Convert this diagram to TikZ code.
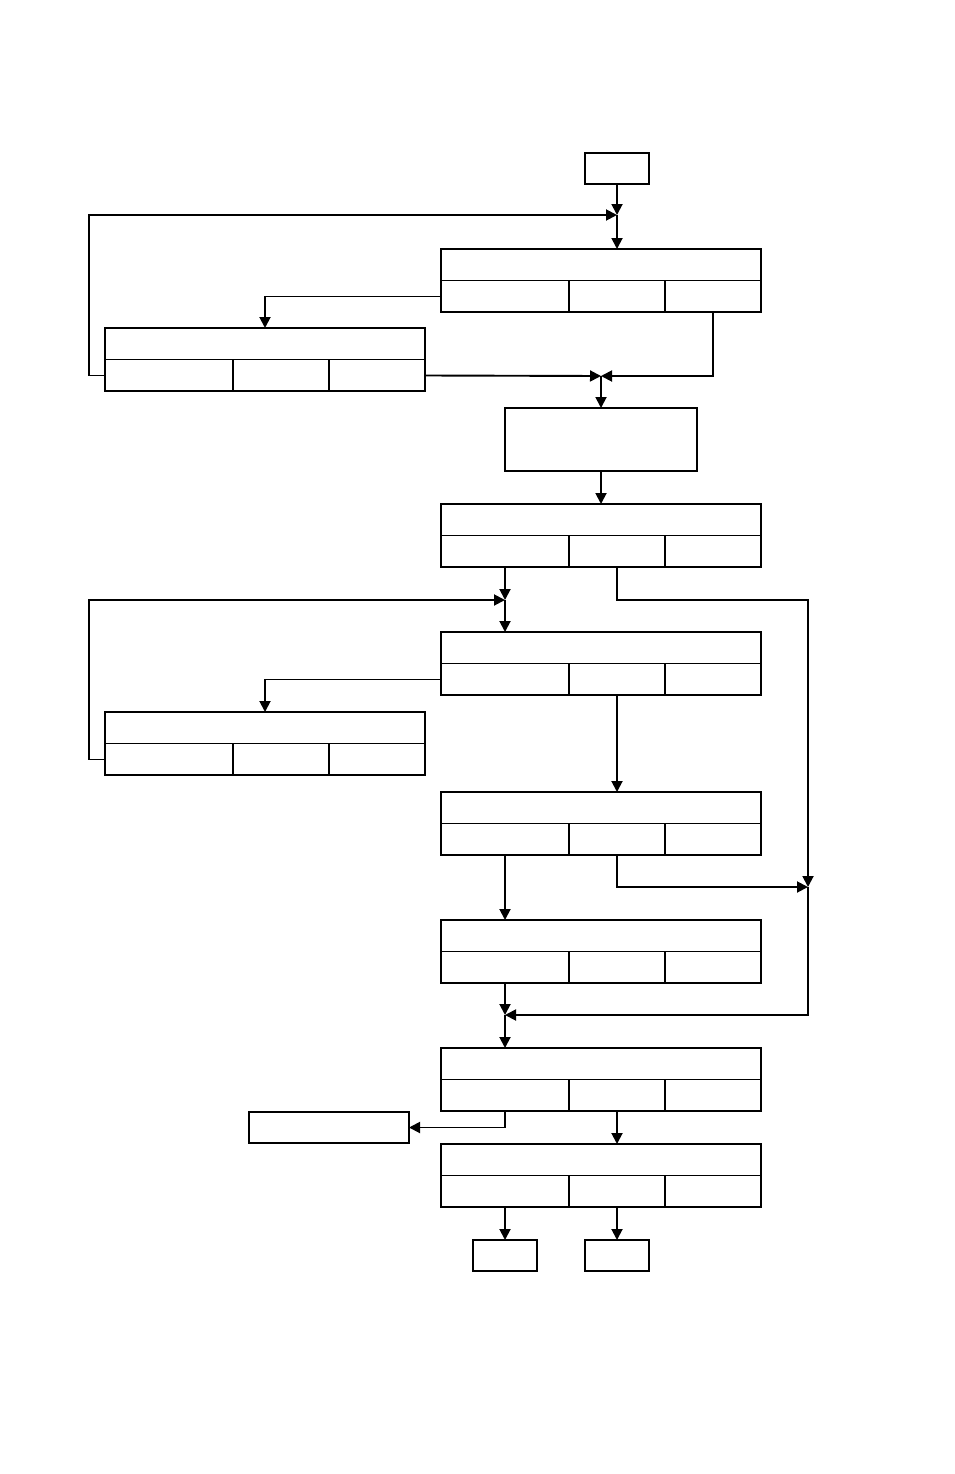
\documentclass[tikz,border=0pt]{standalone}
\usetikzlibrary{arrows.meta}
\tikzset{
  box/.style={draw, rectangle, inner sep=0pt, outer sep=0pt, anchor=north west},
  arr/.style={-{Triangle[length=11pt,width=11pt]}},
}
\newcommand\mytable[3]{%
  \node[box, minimum width=320pt, minimum height=63pt] (#1) at (#2,#3) {};
  \draw (#1.west) -- (#1.east);
  \draw ([xshift=128pt]#1.south west) -- ([xshift=128pt]#1.west);
  \draw ([xshift=224pt]#1.south west) -- ([xshift=224pt]#1.west);
}
\begin{document}
\begin{tikzpicture}[x=1pt, y=-1pt, line width=1.9pt]
\fill[white] (0,0) rectangle (954,1474);
\useasboundingbox (0,0) rectangle (954,1474);

\node[box, minimum width=64pt, minimum height=31pt] (start) at (585,153) {};
\mytable{A}{441}{249}
\mytable{B}{105}{328}
\node[box, minimum width=192pt, minimum height=63pt] (C) at (505,408) {};
\mytable{D}{441}{504}
\mytable{E}{441}{632}
\mytable{F}{105}{712}
\mytable{G}{441}{792}
\mytable{H}{441}{920}
\mytable{I}{441}{1048}
\node[box, minimum width=160pt, minimum height=31pt] (K) at (249,1112) {};
\mytable{L}{441}{1144}
\node[box, minimum width=64pt, minimum height=31pt] (M) at (473,1240) {};
\node[box, minimum width=64pt, minimum height=31pt] (N) at (585,1240) {};

\coordinate (J1) at (617,215);
\coordinate (J2) at (601,376);
\coordinate (J3) at (505,600);
\coordinate (RR) at (808,600);
\coordinate (J5) at (808,887);
\coordinate (J6) at (505,1015);

\draw[arr] (start.south) -- (J1);
\draw[arr] (J1) -- (J1 |- A.north);
\draw[arr] ([yshift=-16pt]A.west) -| (B.north);
\draw[arr] ([yshift=-16pt]B.west) -- ++(-16,0) |- (J1);
\draw[arr] ([yshift=-16pt]B.east) -- (J2);
\draw[arr] ([xshift=-48pt]A.south east) |- (J2);
\draw[arr] (J2) -- (C.north);
\draw[arr] (C.south) -- (D.north);
\draw[arr] ([xshift=64pt]D.south west) -- (J3);
\draw[arr] ([xshift=176pt]D.south west) |- (RR) -- (J5);
\draw[arr] ([yshift=-16pt]F.west) -- ++(-16,0) |- (J3);
\draw[arr] (J3) -- (J3 |- E.north);
\draw[arr] ([yshift=-16pt]E.west) -| (F.north);
\draw[arr] ([xshift=176pt]E.south west) -- ([xshift=176pt]G.north west);
\draw[arr] ([xshift=176pt]G.south west) |- (J5);
\draw[arr] ([xshift=64pt]G.south west) -- ([xshift=64pt]H.north west);
\draw[arr] (J5) |- (J6);
\draw[arr] ([xshift=64pt]H.south west) -- (J6);
\draw[arr] (J6) -- (J6 |- I.north);
\draw[arr] ([xshift=64pt]I.south west) |- (K.east);
\draw[arr] ([xshift=176pt]I.south west) -- ([xshift=176pt]L.north west);
\draw[arr] ([xshift=64pt]L.south west) -- (M.north);
\draw[arr] ([xshift=176pt]L.south west) -- (N.north);
\end{tikzpicture}
\end{document}
